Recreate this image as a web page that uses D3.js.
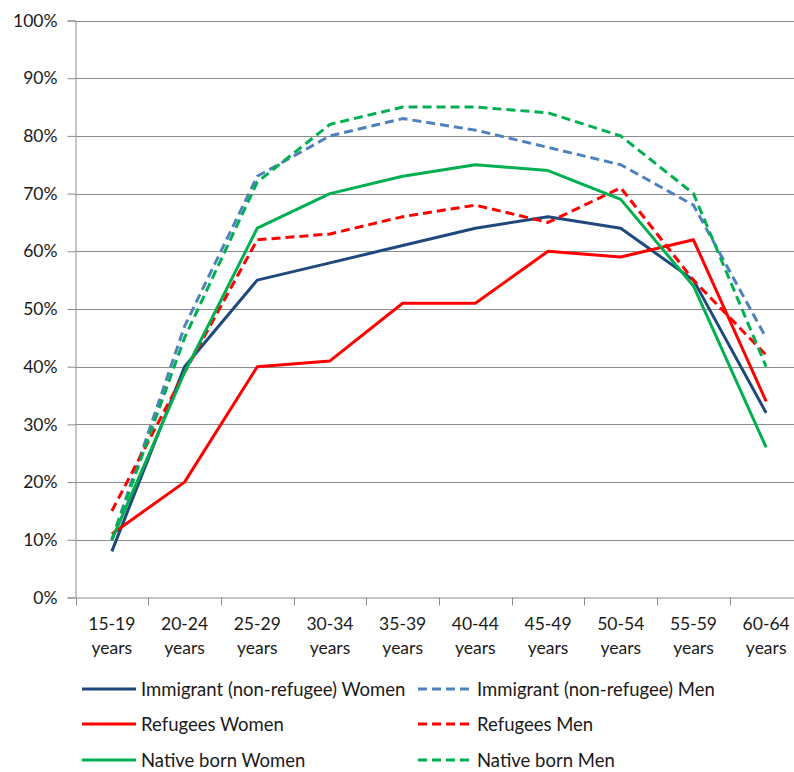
<!DOCTYPE html>
<html>
<head>
<meta charset="utf-8">
<script src="https://cdn.jsdelivr.net/npm/d3@7"></script>
<style>
  html, body { margin: 0; padding: 0; background: #fff; }
  svg { display: block; }
  text { font-family: Lato, "Noto Sans", sans-serif; fill: #1a1a1a; }
</style>
</head>
<body>
<svg id="chart" width="794" height="772"></svg>
<script>
const categories = ["15-19 years", "20-24 years", "25-29 years", "30-34 years", "35-39 years",
                    "40-44 years", "45-49 years", "50-54 years", "55-59 years", "60-64 years"];
const yTicks = [0, 10, 20, 30, 40, 50, 60, 70, 80, 90, 100];

const immigrantWomen = [8, 40, 55, 58, 61, 64, 66, 64, 55, 32];
const immigrantMen   = [10, 47, 73, 80, 83, 81, 78, 75, 68, 45];
const refugeesWomen  = [11, 20, 40, 41, 51, 51, 60, 59, 62, 34];
const refugeesMen    = [15, 39, 62, 63, 66, 68, 65, 71, 55, 42];
const nativeWomen    = [10, 39, 64, 70, 73, 75, 74, 69, 54, 26];
const nativeMen      = [10, 45, 72, 82, 85, 85, 84, 80, 70, 40];

const seriesNames = ["Immigrant (non-refugee) Women", "Immigrant (non-refugee) Men",
                     "Refugees Women", "Refugees Men", "Native born Women", "Native born Men"];

const series = [
  { name: seriesNames[0], values: immigrantWomen, color: "#1F497D", dashed: false },
  { name: seriesNames[1], values: immigrantMen,   color: "#4F81BD", dashed: true },
  { name: seriesNames[2], values: refugeesWomen,  color: "#FF0000", dashed: false },
  { name: seriesNames[3], values: refugeesMen,    color: "#FF0000", dashed: true },
  { name: seriesNames[4], values: nativeWomen,    color: "#00B050", dashed: false },
  { name: seriesNames[5], values: nativeMen,      color: "#00B050", dashed: true }
];

(function () {
const svg = d3.select("#chart");
const mLeft = 75.5, mRight = 802.5, mTop = 20.5, mBottom = 597.5;

const x = d3.scaleBand().domain(categories).range([mLeft, mRight]).padding(0);
const y = d3.scaleLinear().domain([0, 100]).range([mBottom, mTop]);

// gridlines
svg.append("g").selectAll("line").data(yTicks.filter(d => d > 0)).join("line")
  .attr("x1", mLeft).attr("x2", mRight)
  .attr("y1", d => Math.round(y(d)) + 0.5).attr("y2", d => Math.round(y(d)) + 0.5)
  .attr("stroke", "#8c8c8c").attr("stroke-width", 1);

// y axis
const yAxis = d3.axisLeft(y).tickValues(yTicks).tickFormat(d => d + "%").tickSize(8).tickPadding(10);
const gy = svg.append("g").attr("transform", `translate(${mLeft},0)`).call(yAxis);
gy.select(".domain").attr("stroke", "#8c8c8c");
gy.selectAll(".tick line").attr("stroke", "#8c8c8c");
gy.selectAll(".tick text").attr("font-size", 17.5).attr("font-family", "Lato").attr("fill", "#1a1a1a");

// x axis
const xAxis = d3.axisBottom(x).tickSize(0).tickFormat("");
const gx = svg.append("g").attr("transform", `translate(0,${mBottom})`).call(xAxis);
gx.select(".domain").attr("stroke", "#8c8c8c");
svg.append("g").selectAll("line").data(categories).join("line")
  .attr("x1", d => Math.round(x(d)) + 0.5).attr("x2", d => Math.round(x(d)) + 0.5)
  .attr("y1", mBottom).attr("y2", mBottom + 8)
  .attr("stroke", "#8c8c8c");

// x labels (two lines)
const xl = svg.append("g").selectAll("text").data(categories).join("text")
  .attr("text-anchor", "middle").attr("font-size", 17.5)
  .attr("transform", d => `translate(${x(d) + x.bandwidth() / 2},0)`);
xl.append("tspan").attr("x", 0).attr("y", 630).text(d => d.split(" ")[0]);
xl.append("tspan").attr("x", 0).attr("y", 654).text(d => d.split(" ")[1]);

// lines
const line = d3.line()
  .x((d, i) => x(categories[i]) + x.bandwidth() / 2)
  .y(d => y(d));

svg.append("g").selectAll("path").data(series).join("path")
  .attr("d", d => line(d.values))
  .attr("fill", "none")
  .attr("stroke", d => d.color)
  .attr("stroke-width", 3)
  .attr("stroke-linejoin", "round")
  .attr("stroke-dasharray", d => d.dashed ? "9,5" : null);

// legend
const legendPos = [
  { lx: 82, ly: 689 }, { lx: 418, ly: 689 },
  { lx: 82, ly: 724 }, { lx: 418, ly: 724 },
  { lx: 82, ly: 760 }, { lx: 418, ly: 760 }
];
const lg = svg.append("g").selectAll("g").data(series).join("g")
  .attr("transform", (d, i) => `translate(${legendPos[i].lx},${legendPos[i].ly})`);
lg.append("line").attr("x1", 0).attr("x2", 54).attr("y1", 0).attr("y2", 0)
  .attr("stroke", d => d.color).attr("stroke-width", 3)
  .attr("stroke-dasharray", d => d.dashed ? "9,5" : null);
lg.append("text").attr("x", 59).attr("y", 6.5).attr("font-size", 18.5).text(d => d.name);
})();
</script>
</body>
</html>
